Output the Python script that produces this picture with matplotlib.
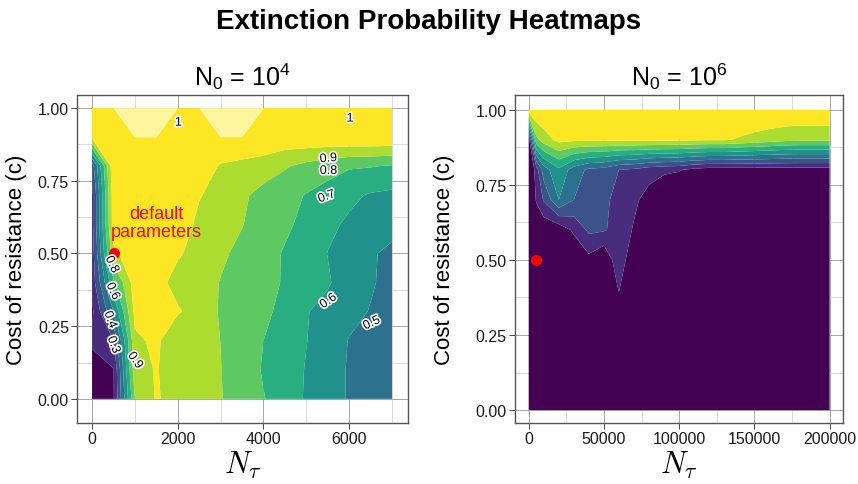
import matplotlib
matplotlib.use("Agg")
import matplotlib.pyplot as plt
import matplotlib.patheffects as pe
from matplotlib.ticker import MultipleLocator, FixedLocator
import numpy as np

plt.rcParams['font.family'] = ['Liberation Sans', 'DejaVu Sans']
plt.rcParams['mathtext.fontset'] = 'custom'
plt.rcParams['mathtext.rm'] = 'Liberation Sans'
plt.rcParams['mathtext.it'] = 'Liberation Sans:italic'

# grid of cost of resistance values (rows)
cost = [0.0, 0.1, 0.2, 0.3, 0.4, 0.5, 0.6, 0.7, 0.8, 0.9, 1.0]

# N0 = 1e4 run
nt_low = [0, 500, 1000, 1500, 2000, 2500, 3000, 3500, 4000, 4500, 5000, 5500, 6000, 6500, 7000]
ext_low = [
    [0.05, 0.19, 0.80, 0.91, 0.86, 0.84, 0.805, 0.75, 0.705, 0.65, 0.59, 0.55, 0.49, 0.47, 0.45],
    [0.15, 0.195, 0.87, 0.905, 0.86, 0.85, 0.802, 0.76, 0.69, 0.64, 0.595, 0.55, 0.49, 0.47, 0.45],
    [0.22, 0.30, 0.88, 0.92, 0.82, 0.84, 0.799, 0.75, 0.70, 0.65, 0.602, 0.56, 0.495, 0.48, 0.46],
    [0.18, 0.50, 0.93, 0.95, 0.91, 0.86, 0.79, 0.75, 0.715, 0.68, 0.605, 0.57, 0.53, 0.495, 0.46],
    [0.24, 0.68, 0.95, 0.93, 0.87, 0.85, 0.795, 0.76, 0.735, 0.69, 0.63, 0.61, 0.55, 0.51, 0.47],
    [0.25, 0.88, 0.96, 0.96, 0.91, 0.87, 0.82, 0.77, 0.74, 0.69, 0.65, 0.598, 0.56, 0.51, 0.48],
    [0.27, 0.95, 0.97, 0.97, 0.95, 0.88, 0.84, 0.805, 0.74, 0.72, 0.67, 0.62, 0.585, 0.56, 0.53],
    [0.27, 0.96, 0.98, 0.98, 0.96, 0.905, 0.87, 0.82, 0.76, 0.73, 0.695, 0.66, 0.62, 0.59, 0.578],
    [0.35, 0.98, 0.98, 0.98, 0.98, 0.96, 0.89, 0.87, 0.86, 0.81, 0.77, 0.74, 0.71, 0.705, 0.69],
    [0.93, 0.96, 1.0, 1.0, 0.97, 0.96, 1.0, 1.0, 0.97, 0.97, 0.98, 0.98, 0.99, 0.99, 0.99],
    [0.99, 1.0, 1.0, 1.0, 1.0, 1.0, 1.0, 1.0, 1.0, 0.99, 0.99, 0.99, 0.99, 0.99, 0.99],
]

# N0 = 1e6 run
nt_high = [0, 5000, 10000, 20000, 30000, 40000, 50000, 60000, 70000, 80000, 90000,
           100000, 110000, 120000, 130000, 140000, 150000, 160000, 170000, 180000, 190000, 200000]
ext_high = [
    [0.0] * 22,
    [0.0] * 22,
    [0.0, 0.0, 0.0, 0.0, 0.0, 0.01, 0.01, 0.01, 0.0, 0.0, 0.0, 0.0, 0.0, 0.0, 0.0, 0.0, 0.0, 0.0, 0.0, 0.0, 0.0, 0.0],
    [0.01, 0.01, 0.01, 0.01, 0.02, 0.03, 0.05, 0.10, 0.02, 0.01, 0.01, 0.01, 0.01, 0.01, 0.01, 0.01, 0.01, 0.01, 0.01, 0.01, 0.01, 0.01],
    [0.01, 0.01, 0.02, 0.03, 0.05, 0.08, 0.10, 0.205, 0.05, 0.02, 0.01, 0.01, 0.01, 0.01, 0.01, 0.01, 0.01, 0.01, 0.01, 0.01, 0.01, 0.01],
    [0.01, 0.03, 0.05, 0.08, 0.10, 0.17, 0.10, 0.28, 0.10, 0.03, 0.01, 0.01, 0.01, 0.01, 0.01, 0.01, 0.01, 0.01, 0.01, 0.01, 0.01, 0.01],
    [0.02, 0.10, 0.12, 0.13, 0.22, 0.32, 0.31, 0.26, 0.19, 0.05, 0.02, 0.01, 0.01, 0.01, 0.01, 0.01, 0.01, 0.01, 0.01, 0.01, 0.01, 0.01],
    [0.03, 0.21, 0.31, 0.50, 0.40, 0.33, 0.32, 0.27, 0.22, 0.16, 0.10, 0.05, 0.02, 0.02, 0.02, 0.02, 0.02, 0.02, 0.02, 0.02, 0.02, 0.02],
    [0.05, 0.25, 0.45, 0.58, 0.45, 0.38, 0.36, 0.30, 0.28, 0.24, 0.22, 0.21, 0.17, 0.15, 0.15, 0.15, 0.15, 0.15, 0.15, 0.15, 0.15, 0.15],
    [0.15, 0.77, 0.85, 0.93, 0.92, 0.92, 0.92, 0.92, 0.92, 0.92, 0.92, 0.92, 0.915, 0.91, 0.91, 0.89, 0.87, 0.85, 0.83, 0.82, 0.82, 0.82],
    [0.99] * 22,
]

levels = [0.0, 0.2, 0.3, 0.4, 0.5, 0.6, 0.7, 0.8, 0.9, 0.9999, 1.0]
fill_colors = [plt.cm.viridis(v) for v in np.linspace(0, 1, 9)] + ['#FFF59E']

# default parameter point for each panel
default_nt = [500, 5000]
default_c = 0.5

# contour labels on the N0 = 1e4 panel
lbl_text = ['1', '1', '0.9', '0.8', '0.7', '0.6', '0.5', '0.8', '0.6', '0.4', '0.3', '0.9']
lbl_x = [2015, 6020, 5515, 5515, 5475, 5515, 6525, 460, 482, 420, 498, 1003]
lbl_y = [0.95, 0.964, 0.826, 0.784, 0.695, 0.336, 0.26, 0.462, 0.37, 0.272, 0.186, 0.132]
lbl_rot = [0, 0, 5, 0, 20, 35, 25, -65, -65, -70, -70, -55]

fig = plt.figure(figsize=(8.58, 4.85), dpi=100)
fig.patch.set_facecolor('white')

ax1 = fig.add_axes([77.3 / 858, 1 - 424 / 485, 330.4 / 858, 328.3 / 485])
ax2 = fig.add_axes([515 / 858, 1 - 424 / 485, 328 / 858, 328.3 / 485])


def style_axis(ax, major_x, minor_x):
    ax.set_axisbelow(True)
    ax.xaxis.set_major_locator(FixedLocator(major_x))
    ax.xaxis.set_minor_locator(FixedLocator(minor_x))
    ax.yaxis.set_major_locator(MultipleLocator(0.25))
    ax.yaxis.set_minor_locator(MultipleLocator(0.125))
    ax.grid(which='major', color='#a6a6a6', lw=0.7)
    ax.grid(which='minor', color='#d4d4d4', lw=0.6)
    ax.tick_params(which='major', length=4, width=0.7, color='#444444',
                   labelsize=11.5, labelcolor='#1a1a1a', pad=2)
    ax.tick_params(which='minor', length=0)
    ax.yaxis.set_major_formatter(plt.FuncFormatter(lambda v, p: '%.2f' % v))
    for s in ax.spines.values():
        s.set_color('#555555')
        s.set_linewidth(1.0)
    ax.set_ylabel('Cost of resistance (c)', fontsize=16)
    ax.set_xlabel(r'$N_\tau$', fontsize=22, math_fontfamily='cm')
    ax.xaxis.set_label_coords(0.5, -0.125)
    ax.xaxis.label.set_va('center')


# left panel
ax1.contourf(nt_low, cost, ext_low, levels=levels, colors=fill_colors, antialiased=True)
style_axis(ax1, [0, 2000, 4000, 6000], [1000, 3000, 5000, 7000])
ax1.set_xlim(-345, 7365)
ax1.set_ylim(-0.083, 1.046)
ax1.yaxis.set_label_coords(-0.152, 0.5)
ax1.plot(default_nt[0], default_c, 'o', color='red', ms=7, zorder=5)
ax1.text(1500, 0.607, 'default\nparameters', color='red', fontsize=13,
         ha='center', va='center', linespacing=1.1, zorder=6)
for t, x, y, r in zip(lbl_text, lbl_x, lbl_y, lbl_rot):
    ax1.text(x, y, t, fontsize=9, rotation=r, ha='center', va='center', zorder=6,
             rotation_mode='anchor',
             path_effects=[pe.withStroke(linewidth=2.5, foreground='white')])
ax1.text(0.5, 1.057, r'N$_0$ = 10$^4$', transform=ax1.transAxes, fontsize=18,
         ha='center', va='center')

# right panel
ax2.contourf(nt_high, cost, ext_high, levels=levels, colors=fill_colors, antialiased=True)
style_axis(ax2, [0, 50000, 100000, 150000, 200000], [25000, 75000, 125000, 175000])
ax2.set_xlim(-9100, 208900)
ax2.set_ylim(-0.043, 1.05)
ax2.yaxis.set_label_coords(-0.183, 0.5)
ax2.plot(default_nt[1], default_c, 'o', color='red', ms=7, zorder=5)
ax2.text(0.5, 1.057, r'N$_0$ = 10$^6$', transform=ax2.transAxes, fontsize=18,
         ha='center', va='center')

fig.text(0.5, 0.955, 'Extinction Probability Heatmaps', ha='center', va='center',
         fontsize=20, fontweight='bold')

fig.savefig('out.png', dpi=100, facecolor='white')
